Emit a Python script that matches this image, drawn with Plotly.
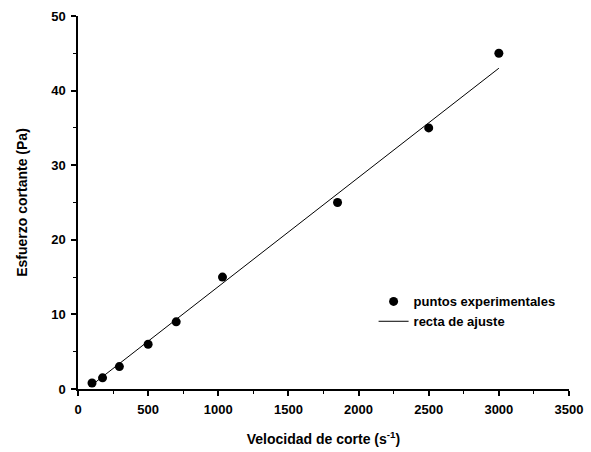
import plotly.graph_objects as go

# Experimental data
velocidad = [100, 175, 295, 500, 700, 1030, 1850, 2500, 3000]
esfuerzo = [0.8, 1.5, 3.0, 6.0, 9.0, 15.0, 25.0, 35.0, 45.0]

# Fitted line (endpoints)
ajuste_x = [100, 3000]
ajuste_y = [0.55, 43.0]

font_family = "Liberation Sans, Arial, sans-serif"

fig = go.Figure()
fig.add_trace(go.Scatter(
    x=velocidad, y=esfuerzo, mode="markers",
    name="<b>puntos experimentales</b>",
    marker=dict(color="black", size=9, symbol="circle"),
))
fig.add_trace(go.Scatter(
    x=ajuste_x, y=ajuste_y, mode="lines",
    name="<b>recta de ajuste</b>",
    line=dict(color="black", width=1),
))

axis_common = dict(
    showline=True, linecolor="black", linewidth=1.5,
    ticks="outside", ticklen=5, tickwidth=1.5, tickcolor="black",
    showgrid=False, zeroline=False, mirror=False,
    ticklabelstandoff=3, automargin=False,
    tickfont=dict(family=font_family, size=13, color="black", weight="bold"),
)

fig.update_xaxes(
    range=[0, 3500], dtick=500, tick0=0,
    minor=dict(ticks="outside", ticklen=3, dtick=250, tickcolor="black", tickwidth=1.2),
    title=dict(text="<b>Velocidad de corte (s<sup>-1</sup>)</b>",
               font=dict(family=font_family, size=14, color="black"), standoff=18),
    **axis_common,
)
fig.update_yaxes(
    range=[0, 50], dtick=10, tick0=0,
    minor=dict(ticks="outside", ticklen=3, dtick=5, tickcolor="black", tickwidth=1.2),
    title=dict(text="<b>Esfuerzo cortante (Pa)</b>",
               font=dict(family=font_family, size=14, color="black"), standoff=20),
    **axis_common,
)

fig.update_layout(
    width=591, height=452,
    margin=dict(l=78, r=22, t=16, b=63),
    paper_bgcolor="white", plot_bgcolor="white",
    showlegend=True,
    legend=dict(
        x=0.602, y=0.275, xanchor="left", yanchor="top",
        bgcolor="rgba(0,0,0,0)",
        font=dict(family=font_family, size=13, color="black"),
        itemwidth=30,
    ),
)

fig.write_html("out.html")
